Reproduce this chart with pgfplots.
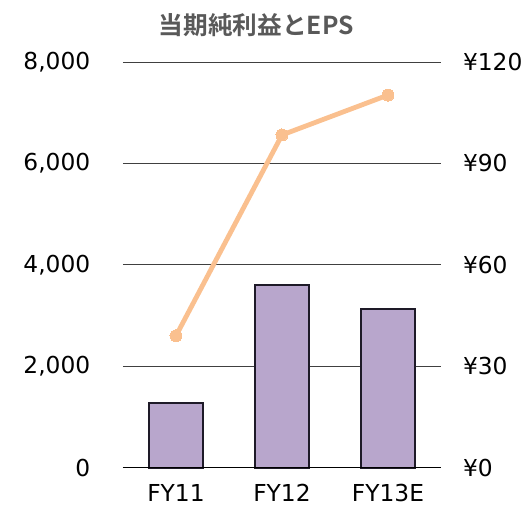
\documentclass[border=0pt]{standalone}
\usepackage{fontspec}
\setmainfont{DejaVu Sans}
\newfontfamily\cjk{Noto Sans CJK JP}[BoldFont={Noto Sans CJK JP Bold}]
\usepackage{pgfplots}
\pgfplotsset{compat=1.18}
\definecolor{barfill}{HTML}{B8A6CC}
\definecolor{bardark}{HTML}{1E1A28}
\definecolor{epsline}{HTML}{FAC08F}
\definecolor{titlegray}{HTML}{595959}
\definecolor{gridc}{HTML}{404040}
\begin{document}
\begin{tikzpicture}
\useasboundingbox (-92.25pt,-31pt) rectangle (302.25pt,350.75pt);
\begin{axis}[
  at={(0,0)}, anchor=south west,
  scale only axis, width=238.5pt, height=304.3pt,
  xmin=-0.5, xmax=2.5, ymin=0, ymax=8000,
  xtick={0,1,2}, xticklabels={FY11,FY12,FY13E},
  ytick={0,2000,4000,6000,8000},
  axis y line*=left, axis x line*=bottom,
  axis line style={draw=none},
  major tick length=0pt,
  ymajorgrids, grid style={gridc, line width=0.6pt},
  /pgf/number format/assume math mode=true,
  /pgf/number format/1000 sep={,},
  tick label style={font=\fontsize{17.5pt}{20pt}\selectfont, text=black},
  yticklabel style={xshift=-21pt},
  xticklabel style={yshift=-9pt},
  clip=false,
]
\addplot[ybar, bar width=41pt, fill=barfill, draw=bardark, line width=1.4pt] coordinates {(0,1270) (1,3600) (2,3120)};
\draw[black, line width=0.8pt] (axis cs:-0.5,0) -- (axis cs:2.5,0);
\end{axis}
\begin{axis}[
  at={(0,0)}, anchor=south west,
  scale only axis, width=238.5pt, height=304.3pt,
  xmin=-0.5, xmax=2.5, ymin=0, ymax=120,
  ytick={0,30,60,90,120},
  axis y line*=right, axis x line=none,
  axis line style={draw=none},
  major tick length=0pt,
  /pgf/number format/assume math mode=true,
  yticklabel={¥\pgfmathprintnumber{\tick}},
  tick label style={font=\fontsize{17.5pt}{20pt}\selectfont, text=black},
  yticklabel style={xshift=13pt},
  clip=false,
]
\addplot[epsline, line width=3.6pt, mark=*, mark size=4.5pt, mark options={fill=epsline, draw=epsline, line width=0pt}] coordinates {(0,39) (1,98.4) (2,110.2)};
\end{axis}
\node[anchor=center, text=titlegray, font=\cjk\bfseries\fontsize{18.5pt}{20pt}\selectfont] at (100pt,332pt) {当期純利益とEPS};
\end{tikzpicture}
\end{document}
